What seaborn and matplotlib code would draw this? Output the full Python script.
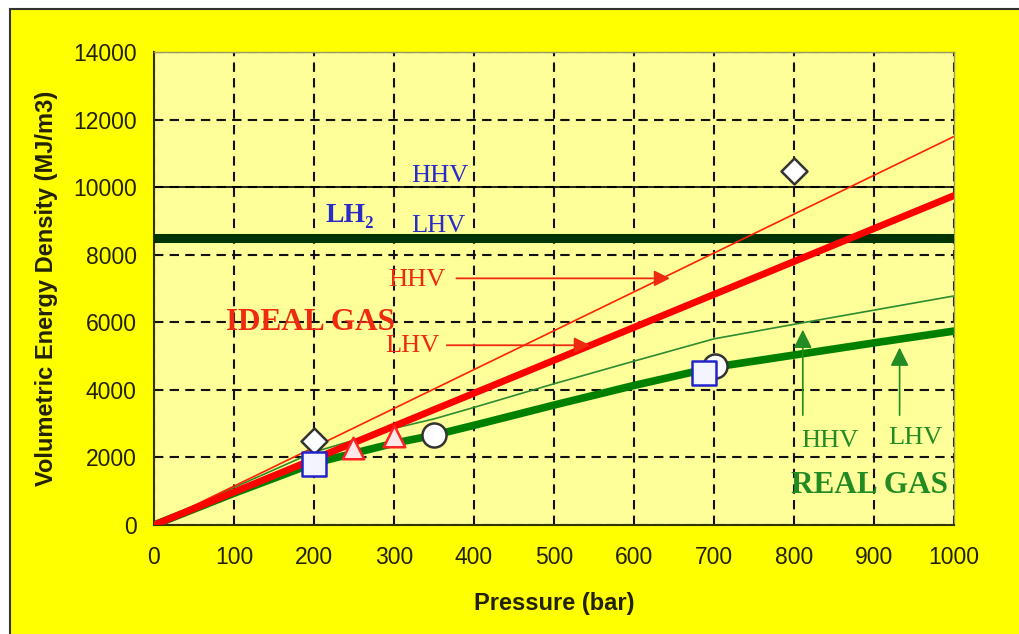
import numpy as np
import pandas as pd
import matplotlib
matplotlib.use("Agg")
import matplotlib.pyplot as plt
from matplotlib.patches import Rectangle
import seaborn as sns

# ---------------- data ----------------
pressure = [0, 100, 200, 300, 350, 400, 500, 600, 700, 800, 900, 1000]
ideal_hhv = [0, 1150, 2300, 3450, 4025, 4600, 5750, 6900, 8050, 9200, 10350, 11500]
ideal_lhv = [0, 975, 1950, 2925, 3413, 3900, 4875, 5850, 6825, 7800, 8775, 9750]
real_hhv = [0, 1110, 2160, 2860, 3140, 3480, 4180, 4850, 5510, 5940, 6360, 6780]
real_lhv = [0, 940, 1830, 2420, 2660, 2950, 3550, 4130, 4670, 5030, 5390, 5740]
lh2_lhv = 8500
lh2_hhv = 10000

diamond_x = [200, 800]
diamond_y = [2500, 10480]
square_x = [200, 688]
square_y = [1800, 4490]
triangle_x = [249, 300]
triangle_y = [2290, 2640]
circle_x = [350, 701]
circle_y = [2660, 4720]

x_ticks = [0, 100, 200, 300, 400, 500, 600, 700, 800, 900, 1000]
y_ticks = [0, 2000, 4000, 6000, 8000, 10000, 12000, 14000]

# ---------------- style ----------------
sns.set_style("white")
plt.rcParams["font.family"] = ["Liberation Sans", "DejaVu Sans"]

fig = plt.figure(figsize=(10.19, 6.34), dpi=100, facecolor="white")
fig.patches.append(Rectangle((10 / 1019, -0.1), 1.2, 0.1 + 1 - 9 / 634,
                             transform=fig.transFigure, facecolor="#FFFF00",
                             edgecolor="#333333", linewidth=1.5, zorder=-10))
ax = fig.add_axes([154 / 1019, 1 - 525 / 634, 800 / 1019, 473 / 634])
ax.set_facecolor("#FFFF99")

df = pd.DataFrame({"p": pressure, "ih": ideal_hhv, "il": ideal_lhv,
                   "rh": real_hhv, "rl": real_lhv})

# grid
ax.set_axisbelow(True)
ax.grid(True, color="#111111", linestyle=(0, (4.5, 3)), linewidth=1.5)

# LH2 lines
ax.axhline(lh2_hhv, color="black", linewidth=1.2, zorder=2)
ax.axhline(lh2_lhv, color="#003300", linewidth=6.5, zorder=3)

# curves
sns.lineplot(data=df, x="p", y="rh", ax=ax, color="#2E8B2E", linewidth=1.2, zorder=4)
sns.lineplot(data=df, x="p", y="rl", ax=ax, color="#008000", linewidth=5.5, zorder=4)
sns.lineplot(data=df, x="p", y="ih", ax=ax, color="#FF2200", linewidth=1.2, zorder=5)
sns.lineplot(data=df, x="p", y="il", ax=ax, color="#FF0000", linewidth=5.0, zorder=5)

# markers
sns.scatterplot(x=diamond_x, y=diamond_y, ax=ax, marker="D", s=175,
                color="white", edgecolor="#333333", linewidth=1.8, zorder=7)
sns.scatterplot(x=triangle_x, y=triangle_y, ax=ax, marker="^", s=240,
                color="#FFE8E8", edgecolor="#FF2222", linewidth=1.8, zorder=7)
sns.scatterplot(x=circle_x, y=circle_y, ax=ax, marker="o", s=300,
                color="white", edgecolor="#333333", linewidth=1.8, zorder=7)
sns.scatterplot(x=square_x, y=square_y, ax=ax, marker="s", s=280,
                color="#F4F4FF", edgecolor="#2222CC", linewidth=1.8, zorder=8)

# axes
ax.set_xlim(0, 1000)
ax.set_ylim(0, 14000)
ax.set_xticks(x_ticks)
ax.set_yticks(y_ticks)
ax.tick_params(axis="both", length=0, labelsize=16.5, labelcolor="#222200")
ax.tick_params(axis="x", pad=15)
ax.tick_params(axis="y", pad=12.5)
ax.set_xlabel("Pressure (bar)", fontsize=17, fontweight="bold", color="#222200", labelpad=17)
ax.set_ylabel("Volumetric Energy Density (MJ/m3)", fontsize=17, fontweight="bold",
              color="#222200", labelpad=11)
for side in ["left", "bottom"]:
    ax.spines[side].set_color("#333300")
    ax.spines[side].set_linewidth(1.5)
for side in ["top", "right"]:
    ax.spines[side].set_color("#999966")
    ax.spines[side].set_linewidth(1.0)

serif = ["Liberation Serif", "DejaVu Serif"]
blue = "#2B2BC8"
red = "#EE2A10"
green = "#238B23"

# LH2 texts
ax.text(245, 9150, "LH₂", family=serif, fontsize=20, fontweight="bold", color=blue,
        ha="center", va="center", zorder=9)
ax.text(357, 10330, "HHV", family=serif, fontsize=19, color=blue, ha="center", va="center", zorder=9)
ax.text(355, 8850, "LHV", family=serif, fontsize=19, color=blue, ha="center", va="center", zorder=9)

# ideal gas texts and arrows
ax.text(196, 6000, "IDEAL GAS", family=serif, fontsize=22.5, fontweight="bold", color=red,
        ha="center", va="center", zorder=9)
ax.text(328, 7250, "HHV", family=serif, fontsize=19, color=red, ha="center", va="center", zorder=9)
ax.text(323, 5300, "LHV", family=serif, fontsize=19, color=red, ha="center", va="center", zorder=9)
ax.annotate("", xy=(645, 7300), xytext=(378, 7300),
            arrowprops=dict(arrowstyle="-|>", color=red, lw=1.3, mutation_scale=24,
                            shrinkA=0, shrinkB=0), zorder=9)
ax.annotate("", xy=(545, 5320), xytext=(366, 5320),
            arrowprops=dict(arrowstyle="-|>", color=red, lw=1.3, mutation_scale=24,
                            shrinkA=0, shrinkB=0), zorder=9)

# real gas texts and arrows
ax.annotate("", xy=(811, 5780), xytext=(811, 3250),
            arrowprops=dict(arrowstyle="-|>", color=green, lw=1.2, mutation_scale=28,
                            shrinkA=0, shrinkB=0), zorder=9)
ax.annotate("", xy=(932, 5250), xytext=(932, 3250),
            arrowprops=dict(arrowstyle="-|>", color=green, lw=1.2, mutation_scale=28,
                            shrinkA=0, shrinkB=0), zorder=9)
ax.text(845, 2500, "HHV", family=serif, fontsize=19, color=green, ha="center", va="center", zorder=9)
ax.text(952, 2580, "LHV", family=serif, fontsize=19, color=green, ha="center", va="center", zorder=9)
ax.text(894, 1170, "REAL GAS", family=serif, fontsize=22.5, fontweight="bold", color=green,
        ha="center", va="center", zorder=9)

fig.savefig("out.png", dpi=100, facecolor=fig.get_facecolor())
